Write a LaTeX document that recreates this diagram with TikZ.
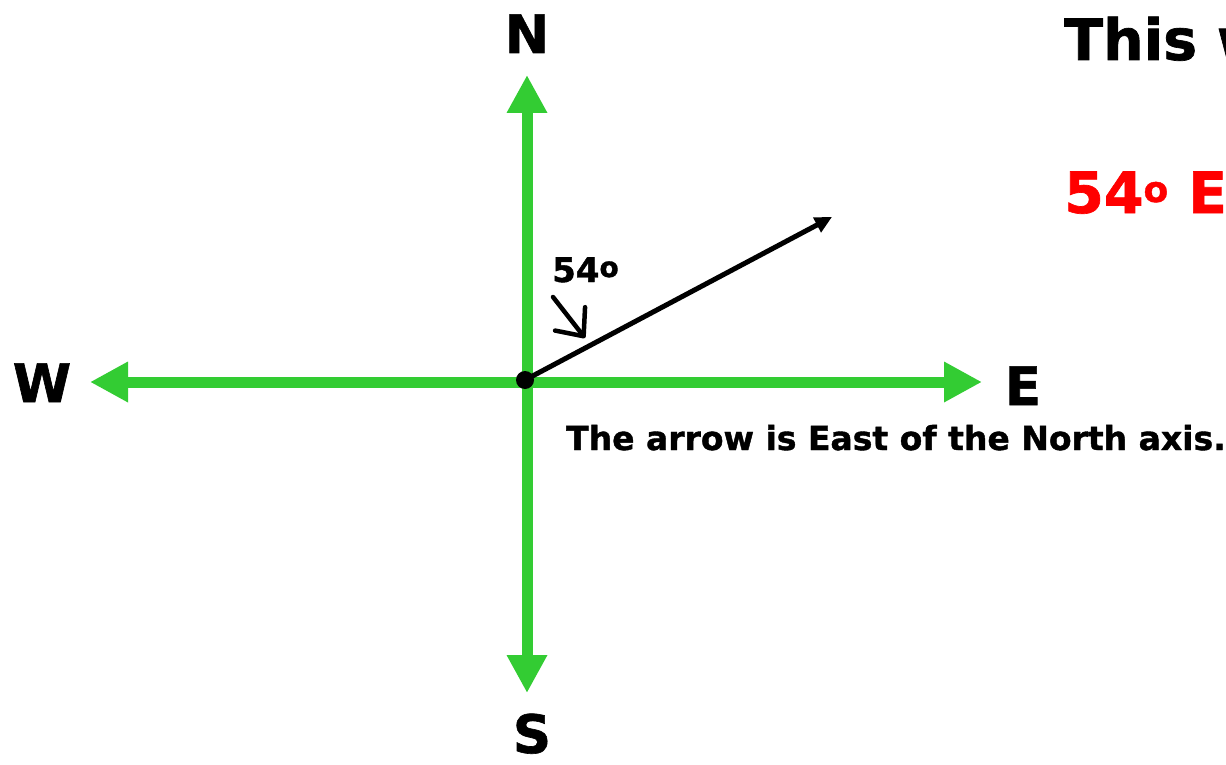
\documentclass[tikz,border=0pt]{standalone}
\usepackage{fontspec}
\setmainfont{DejaVu Sans}
\newfontfamily\heavy[FakeBold=1.2]{DejaVu Sans Bold}
\usetikzlibrary{arrows.meta}
\definecolor{axisgreen}{RGB}{51,204,51}
\definecolor{labred}{RGB}{255,0,0}
\tikzset{
  axis/.style={draw=axisgreen, line width=11pt, -{Triangle[length=38pt,width=38pt]}},
  lab/.style={inner sep=0pt, text=black},
  vec/.style={draw=black, line width=5pt, -{Triangle[length=17pt,width=16pt]}},
  hint/.style={draw=black, line width=4.5pt, line cap=round, -{Straight Barb[length=22pt,width=38pt,line cap=round,line join=round]}}
}
\newcommand{\fsz}[1]{\fontsize{#1}{#1}\selectfont}
\begin{document}
\begin{tikzpicture}[x=1pt,y=-1pt]
\path[use as bounding box] (0,0) rectangle (1226,765);
\clip (0,0) rectangle (1226,765);
\fill[white] (0,0) rectangle (1226,765);
% axis end points
\coordinate (Ntip) at (527,75);
\coordinate (Stip) at (527,693);
\coordinate (Wtip) at (90,382);
\coordinate (Etip) at (982,382);
\coordinate (Vtip) at (832,217);
\coordinate (Hs) at (553,297);
\coordinate (He) at (585,338);
% axes
\draw[axis] (527,382) -- (Ntip);
\draw[axis] (527,382) -- (Stip);
\draw[axis] (527,382) -- (Wtip);
\draw[axis] (527,382) -- (Etip);
% origin dot
\node[circle, fill=black, inner sep=0pt, minimum size=18pt] (O) at (525,380) {};
% vector
\draw[vec] (O.center) -- (Vtip);
% angle hint arrow
\draw[hint] (Hs) -- (He);
% labels
\node[lab, anchor=base, font=\heavy\fsz{53}] (N) at (527,53) {N};
\node[lab, anchor=base, font=\heavy\fsz{53}] (S) at (532,753) {S};
\node[lab, anchor=base, font=\heavy\fsz{53}] (W) at (42,402) {W};
\node[lab, anchor=base, font=\heavy\fsz{53}] (E) at (1023,405) {E};
\node[lab, anchor=base west, font=\heavy\fsz{34}] (ang) at (552,282) {54\raisebox{5pt}{\fsz{28}o}};
\node[lab, anchor=base west, font=\heavy\fsz{33}] (note) at (566,450) {The arrow is East of the North axis.};
\node[lab, anchor=base west, font=\heavy\fsz{57}] (title) at (1064,60) {This w};
\node[lab, anchor=base west, font=\heavy\fsz{57}, text=labred] (bearing) at (1064,213) {54\raisebox{11pt}{\fsz{36}o} E};
\end{tikzpicture}
\end{document}
